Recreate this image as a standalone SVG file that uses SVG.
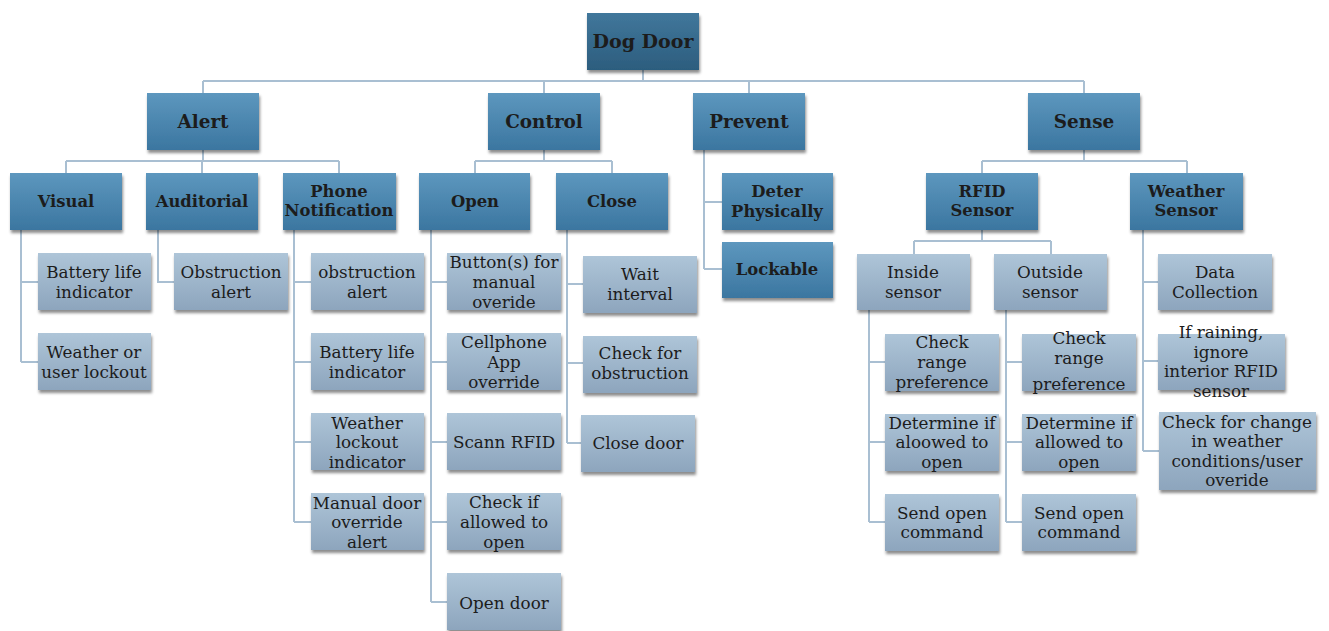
<svg xmlns="http://www.w3.org/2000/svg" width="1329" height="631" viewBox="0 0 1329 631">
<defs>
<linearGradient id="gr" x1="0" y1="0" x2="0" y2="1"><stop offset="0" stop-color="#41779b"/><stop offset="1" stop-color="#2c5d7e"/></linearGradient>
<linearGradient id="gd" x1="0" y1="0" x2="0" y2="1"><stop offset="0" stop-color="#5d97be"/><stop offset="1" stop-color="#3b76a0"/></linearGradient>
<linearGradient id="gl" x1="0" y1="0" x2="0" y2="1"><stop offset="0" stop-color="#aec5d8"/><stop offset="1" stop-color="#8da5bd"/></linearGradient>
<filter id="sh" x="-10%" y="-10%" width="125%" height="130%"><feDropShadow dx="1" dy="3" stdDeviation="1.6" flood-color="#000" flood-opacity="0.45"/></filter>
</defs>
<style>
.root{fill:url(#gr);filter:url(#sh)}
.dk{fill:url(#gd);filter:url(#sh)}
.lt{fill:url(#gl);filter:url(#sh)}
text{font-family:"DejaVu Serif","Liberation Serif",serif;fill:#1c1c1c;text-anchor:middle}
.t0{font-size:19px;font-weight:bold}
.t1{font-size:18.4px;font-weight:bold}
.t2{font-size:16.4px;font-weight:bold}
.t3{font-size:16.8px}
.cn{fill:none;stroke:#a9bfd2;stroke-width:2}
</style>
<rect width="1329" height="631" fill="#ffffff"/>
<g id="connectors" class="cn">
<path d="M643 70V81M203 81H1084M203 81V93M544 81V93M749 81V93M1084 81V93"/>
<path d="M203 150V161M66 161H339M66 161V173M202 161V173M339 161V173"/>
<path d="M544 150V161M475 161H612M475 161V173M612 161V173"/>
<path d="M704 150V269M704 202H722M704 269H722"/>
<path d="M1084 150V161M982 161H1187M982 161V173M1187 161V173"/>
<path d="M21 230V362M21 282H38M21 362H38"/>
<path d="M158 230V282H174"/>
<path d="M294 230V522M294 282H311M294 362H311M294 442H311M294 522H311"/>
<path d="M431 230V602M431 282H447M431 362H447M431 442H447M431 522H447M431 602H447"/>
<path d="M567 230V443M567 284H583M567 363H583M567 443H583"/>
<path d="M982 230V241M914 241H1051M914 241V254M1051 241V254"/>
<path d="M869 310V522M869 362H885M869 442H885M869 522H885"/>
<path d="M1006 310V522M1006 362H1022M1006 442H1022M1006 522H1022"/>
<path d="M1143 230V451M1143 282H1158M1143 361H1158M1143 451H1159"/>
</g>
<g id="dog-door"><rect class="root" x="587" y="13" width="112" height="57"/><text class="t0" x="643" y="48">Dog Door</text></g>
<g id="alert"><rect class="dk" x="147" y="93" width="112" height="57"/><text class="t1" x="203" y="128">Alert</text></g>
<g id="control"><rect class="dk" x="488" y="93" width="112" height="57"/><text class="t1" x="544" y="128">Control</text></g>
<g id="prevent"><rect class="dk" x="693" y="93" width="112" height="57"/><text class="t1" x="749" y="128">Prevent</text></g>
<g id="sense"><rect class="dk" x="1028" y="93" width="112" height="57"/><text class="t1" x="1084" y="128">Sense</text></g>
<g id="visual"><rect class="dk" x="10" y="173" width="112" height="57"/><text class="t2" x="66" y="207">Visual</text></g>
<g id="auditorial"><rect class="dk" x="146" y="173" width="112" height="57"/><text class="t2" x="202" y="207">Auditorial</text></g>
<g id="phone-notification"><rect class="dk" x="283" y="173" width="113" height="57"/><text class="t2" x="339" y="197">Phone</text><text class="t2" x="339" y="216">Notification</text></g>
<g id="open"><rect class="dk" x="419" y="173" width="111" height="57"/><text class="t2" x="475" y="207">Open</text></g>
<g id="close"><rect class="dk" x="556" y="173" width="112" height="57"/><text class="t2" x="612" y="207">Close</text></g>
<g id="deter-physically"><rect class="dk" x="722" y="173" width="111" height="57"/><text class="t2" x="777" y="197">Deter</text><text class="t2" x="777" y="217">Physically</text></g>
<g id="lockable"><rect class="dk" x="722" y="242" width="111" height="56"/><text class="t2" x="777" y="275">Lockable</text></g>
<g id="rfid-sensor"><rect class="dk" x="926" y="173" width="112" height="57"/><text class="t2" x="982" y="197">RFID</text><text class="t2" x="982" y="216">Sensor</text></g>
<g id="weather-sensor"><rect class="dk" x="1130" y="173" width="113" height="57"/><text class="t2" x="1186" y="197">Weather</text><text class="t2" x="1186" y="216">Sensor</text></g>
<g id="v-battery"><rect class="lt" x="38" y="253" width="113" height="57"/><text class="t3" x="94" y="278">Battery life</text><text class="t3" x="94" y="298">indicator</text></g>
<g id="v-weather"><rect class="lt" x="38" y="333" width="113" height="57"/><text class="t3" x="94" y="358">Weather or</text><text class="t3" x="94" y="378">user lockout</text></g>
<g id="a-obstruction"><rect class="lt" x="174" y="253" width="114" height="57"/><text class="t3" x="231" y="278">Obstruction</text><text class="t3" x="231" y="298">alert</text></g>
<g id="p-obstruction"><rect class="lt" x="311" y="253" width="113" height="57"/><text class="t3" x="367" y="278">obstruction</text><text class="t3" x="367" y="298">alert</text></g>
<g id="p-battery"><rect class="lt" x="311" y="333" width="113" height="57"/><text class="t3" x="367" y="358">Battery life</text><text class="t3" x="367" y="378">indicator</text></g>
<g id="p-weather"><rect class="lt" x="311" y="413" width="113" height="57"/><text class="t3" x="367" y="429">Weather</text><text class="t3" x="367" y="448">lockout</text><text class="t3" x="367" y="468">indicator</text></g>
<g id="p-manual"><rect class="lt" x="311" y="493" width="113" height="57"/><text class="t3" x="367" y="509">Manual door</text><text class="t3" x="367" y="528">override</text><text class="t3" x="367" y="548">alert</text></g>
<g id="o-button"><rect class="lt" x="447" y="253" width="114" height="57"/><text class="t3" x="504" y="268">Button(s) for</text><text class="t3" x="504" y="288">manual</text><text class="t3" x="504" y="308">overide</text></g>
<g id="o-cellphone"><rect class="lt" x="447" y="333" width="114" height="57"/><text class="t3" x="504" y="348">Cellphone</text><text class="t3" x="504" y="368">App</text><text class="t3" x="504" y="388">override</text></g>
<g id="o-scann"><rect class="lt" x="447" y="413" width="114" height="57"/><text class="t3" x="504" y="448">Scann RFID</text></g>
<g id="o-check"><rect class="lt" x="447" y="493" width="114" height="57"/><text class="t3" x="504" y="508">Check if</text><text class="t3" x="504" y="528">allowed to</text><text class="t3" x="504" y="548">open</text></g>
<g id="o-open-door"><rect class="lt" x="447" y="573" width="114" height="57"/><text class="t3" x="504" y="609">Open door</text></g>
<g id="c-wait"><rect class="lt" x="583" y="256" width="114" height="57"/><text class="t3" x="640" y="280">Wait</text><text class="t3" x="640" y="300">interval</text></g>
<g id="c-check"><rect class="lt" x="583" y="336" width="114" height="57"/><text class="t3" x="640" y="359">Check for</text><text class="t3" x="640" y="379">obstruction</text></g>
<g id="c-close-door"><rect class="lt" x="581" y="415" width="114" height="57"/><text class="t3" x="638" y="449">Close door</text></g>
<g id="inside-sensor"><rect class="lt" x="857" y="254" width="113" height="56"/><text class="t3" x="913" y="278">Inside</text><text class="t3" x="913" y="298">sensor</text></g>
<g id="outside-sensor"><rect class="lt" x="994" y="254" width="113" height="56"/><text class="t3" x="1050" y="278">Outside</text><text class="t3" x="1050" y="298">sensor</text></g>
<g id="i-check"><rect class="lt" x="885" y="334" width="114" height="57"/><text class="t3" x="942" y="348">Check</text><text class="t3" x="942" y="368">range</text><text class="t3" x="942" y="388">preference</text></g>
<g id="i-determine"><rect class="lt" x="885" y="414" width="114" height="57"/><text class="t3" x="942" y="429">Determine if</text><text class="t3" x="942" y="448">aloowed to</text><text class="t3" x="942" y="468">open</text></g>
<g id="i-send"><rect class="lt" x="885" y="494" width="114" height="57"/><text class="t3" x="942" y="519">Send open</text><text class="t3" x="942" y="538">command</text></g>
<g id="o2-check"><rect class="lt" x="1022" y="334" width="114" height="57"/><text class="t3" x="1079" y="344">Check</text><text class="t3" x="1079" y="364">range</text><text class="t3" x="1079" y="390">preference</text></g>
<g id="o2-determine"><rect class="lt" x="1022" y="414" width="114" height="57"/><text class="t3" x="1079" y="429">Determine if</text><text class="t3" x="1079" y="448">allowed to</text><text class="t3" x="1079" y="468">open</text></g>
<g id="o2-send"><rect class="lt" x="1022" y="494" width="114" height="57"/><text class="t3" x="1079" y="519">Send open</text><text class="t3" x="1079" y="538">command</text></g>
<g id="w-data"><rect class="lt" x="1158" y="254" width="114" height="56"/><text class="t3" x="1215" y="278">Data</text><text class="t3" x="1215" y="298">Collection</text></g>
<g id="w-raining"><rect class="lt" x="1158" y="334" width="127" height="56"/><text class="t3" x="1221" y="338">If raining,</text><text class="t3" x="1221" y="358">ignore</text><text class="t3" x="1221" y="377">interior RFID</text><text class="t3" x="1221" y="397">sensor</text></g>
<g id="w-change"><rect class="lt" x="1159" y="412" width="157" height="78"/><text class="t3" x="1237" y="428">Check for change</text><text class="t3" x="1237" y="447">in weather</text><text class="t3" x="1237" y="467">conditions/user</text><text class="t3" x="1237" y="486">overide</text></g>
</svg>
